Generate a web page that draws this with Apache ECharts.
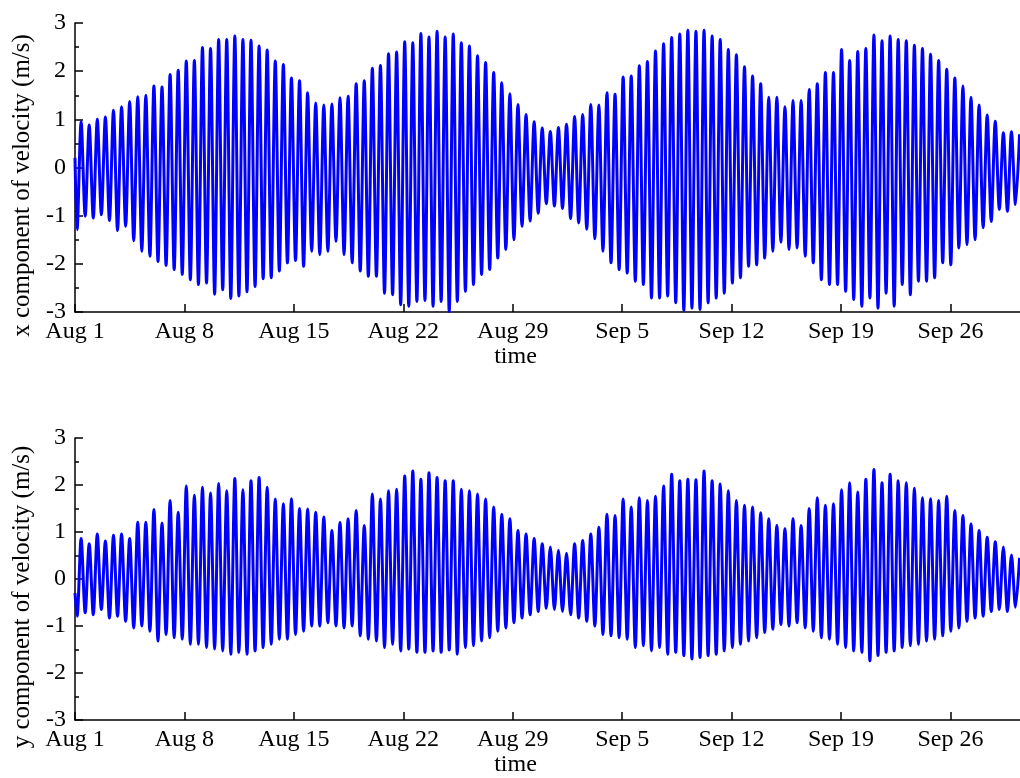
<!DOCTYPE html>
<html>
<head>
<meta charset="utf-8">
<script src="https://cdn.jsdelivr.net/npm/echarts@6/dist/echarts.min.js"></script>
<style>
  html, body { margin: 0; padding: 0; background: #ffffff; }
  #chart { width: 1020px; height: 778px; }
</style>
</head>
<body>
<div id="chart"></div>
<script>
// Tidal current record, 1 Aug - 30 Sep, days counted from Aug 1 00:00.
// Each flood maximum / ebb minimum is one sample; extremes follow the
// semidiurnal M2 period (12.42 h).
const tidalPeriodDays = 0.5175;
const firstTroughDay = 0.134;
const firstPeakDay = 0.391;
const xMaxDay = 60.45;

// x component of velocity (m/s)
const uStart = 0.2;
const uMax = [
  0.95, 0.88, 1.00, 1.05, 1.19, 1.26, 1.37, 1.47, 1.50, 1.69,
  1.67, 1.93, 2.02, 2.21, 2.22, 2.49, 2.47, 2.66, 2.66, 2.73,
  2.66, 2.64, 2.52, 2.44, 2.21, 2.14, 1.86, 1.80, 1.55,
  1.34, 1.30, 1.32, 1.45, 1.48, 1.74, 1.80, 2.06, 2.12, 2.36,
  2.40, 2.61, 2.59, 2.78, 2.71, 2.83, 2.71, 2.77, 2.59, 2.52,
  2.32, 2.18, 1.97, 1.76, 1.53, 1.31, 1.10, 0.95, 0.82,
  0.75, 0.83, 0.90, 1.06, 1.10, 1.31, 1.30, 1.55, 1.52, 1.88,
  1.90, 2.11, 2.20, 2.42, 2.57, 2.70, 2.77, 2.85, 2.83, 2.85,
  2.73, 2.66, 2.45, 2.34, 2.09, 1.90, 1.74, 1.46, 1.46, 1.26,
  1.39, 1.39, 1.62, 1.74, 1.97, 1.97, 2.45, 2.22, 2.41, 2.47,
  2.75, 2.63, 2.73, 2.66, 2.63, 2.54, 2.47, 2.35, 2.22, 2.04,
  1.86, 1.69, 1.46, 1.30, 1.09, 0.96, 0.72, 0.74, 0.69
];
const uMin = [
  -1.29, -1.01, -1.05, -0.98, -1.10, -1.31, -1.22, -1.52, -1.74, -1.84,
  -1.95, -2.03, -2.12, -2.22, -2.33, -2.43, -2.40, -2.63, -2.54, -2.72,
  -2.67, -2.58, -2.47, -2.31, -2.29, -2.15, -1.98, -1.93, -2.05,
  -1.74, -1.81, -1.74, -1.53, -1.81, -1.98, -2.15, -2.26, -2.26, -2.61,
  -2.64, -2.85, -2.88, -2.78, -2.76, -2.88, -2.78, -2.99, -2.78, -2.57,
  -2.43, -2.22, -2.12, -1.88, -1.70, -1.50, -1.22, -1.11, -0.95,
  -0.75, -0.80, -0.85, -1.06, -1.15, -1.28, -1.48, -1.74, -1.98, -2.12,
  -2.19, -2.36, -2.43, -2.71, -2.71, -2.67, -2.81, -2.97, -2.92, -2.95,
  -2.81, -2.71, -2.61, -2.40, -2.29, -2.05, -2.02, -1.88, -1.74, -1.55,
  -1.70, -1.67, -1.84, -1.98, -2.33, -2.43, -2.43, -2.57, -2.74, -2.88,
  -2.71, -2.92, -2.61, -2.88, -2.43, -2.64, -2.36, -2.36, -2.29, -1.98,
  -2.02, -1.67, -1.60, -1.50, -1.25, -1.12, -0.87, -0.91, -0.77
];

// y component of velocity (m/s)
const vStart = -0.3;
const vMax = [
  0.86, 0.75, 0.96, 0.81, 0.93, 0.96, 0.86, 1.21, 1.21, 1.48,
  1.19, 1.67, 1.42, 1.98, 1.78, 1.95, 1.83, 2.03, 1.88, 2.14,
  1.90, 2.09, 2.16, 1.95, 1.70, 1.60, 1.71, 1.50, 1.49, 1.42,
  1.32, 1.03, 1.20,
  1.28, 1.46, 1.14, 1.81, 1.70, 1.88, 1.91, 2.19, 2.30, 2.12,
  2.26, 2.16, 2.09, 2.09, 1.91, 1.88, 1.81, 1.70, 1.53, 1.38,
  1.28, 1.03, 0.96, 0.86, 0.75, 0.68, 0.61, 0.55, 0.75, 0.82,
  0.96, 1.10, 1.38, 1.35, 1.70, 1.53, 1.73, 1.67, 1.76, 1.98,
  2.23,
  2.09, 2.12, 2.11, 2.30, 2.09, 2.02, 1.88, 1.67, 1.57, 1.53,
  1.41, 1.28, 1.14, 1.07, 1.28, 1.14, 1.50, 1.73, 1.57, 1.60,
  1.90, 2.05, 1.85, 2.12, 2.33, 2.05, 2.23, 2.09, 2.05, 1.93,
  1.73, 1.71, 1.67, 1.76, 1.46, 1.35, 1.17, 1.03, 0.89, 0.79,
  0.68, 0.51, 0.45
];
const vMin = [
  -0.79, -0.72, -0.76, -0.65, -0.83, -0.79, -0.90, -1.04, -1.00, -1.11,
  -1.32, -1.18, -1.25, -1.28, -1.39, -1.39, -1.46, -1.49, -1.53, -1.60,
  -1.56, -1.60, -1.53, -1.46, -1.39, -1.28, -1.28, -1.18, -1.11, -1.00,
  -1.00, -0.93, -1.00,
  -1.04, -1.00, -1.21, -1.28, -1.32, -1.46, -1.39, -1.53, -1.49, -1.56,
  -1.56, -1.53, -1.56, -1.51, -1.60, -1.46, -1.42, -1.32, -1.25, -1.11,
  -1.04, -0.93, -0.83, -0.76, -0.69, -0.62, -0.65, -0.69, -0.76, -0.83,
  -0.90, -1.00, -1.18, -1.21, -1.25, -1.28, -1.46, -1.42, -1.53, -1.46,
  -1.60,
  -1.56, -1.63, -1.70, -1.67, -1.63, -1.60, -1.53, -1.46, -1.39, -1.32,
  -1.25, -1.14, -1.07, -0.97, -1.00, -0.93, -1.04, -1.11, -1.25, -1.28,
  -1.39, -1.46, -1.53, -1.56, -1.74, -1.63, -1.56, -1.53, -1.46, -1.42,
  -1.39, -1.32, -1.28, -1.21, -1.11, -1.04, -0.90, -0.83, -0.79, -0.69,
  -0.65, -0.69, -0.60
];

const yTitles = ['x component of velocity (m/s)', 'y component of velocity (m/s)'];
const xTitle = 'time';

const FONT = '"Times New Roman", "Liberation Serif", serif';
const INK = '#000000';
const BLUE = '#0000ff';

// Alternate ebb minima and flood maxima along the time axis.
function buildTrace(start, mins, maxs) {
  const pts = [[0, start]];
  for (let k = 0; k < mins.length; k++) {
    pts.push([firstTroughDay + k * tidalPeriodDays, mins[k]]);
    if (k < maxs.length) pts.push([firstPeakDay + k * tidalPeriodDays, maxs[k]]);
  }
  return pts;
}

function dayLabel(d) {
  const n = Math.round(d);
  return n < 31 ? 'Aug ' + (n + 1) : 'Sep ' + (n - 30);
}

const axisLineStyle = { color: INK, width: 1.5 };

function xAxisFor(i) {
  return {
    type: 'value', gridIndex: i, min: 0, max: xMaxDay, interval: 7,
    axisLine: { show: true, onZero: false, lineStyle: axisLineStyle },
    axisTick: { show: true, inside: true, length: 8, lineStyle: axisLineStyle },
    axisLabel: {
      formatter: dayLabel, fontFamily: FONT, fontSize: 24, color: INK,
      margin: 8, showMaxLabel: false
    },
    splitLine: { show: false },
    name: xTitle, nameLocation: 'middle', nameGap: 33,
    nameTextStyle: { fontFamily: FONT, fontSize: 24, color: INK, padding: [0, 64, 0, 0] }
  };
}

function yAxisFor(i) {
  return {
    type: 'value', gridIndex: i, min: -3, max: 3, interval: 1,
    axisLine: { show: true, onZero: false, lineStyle: axisLineStyle },
    axisTick: { show: true, inside: true, length: 8, lineStyle: axisLineStyle },
    minorTick: { show: true, splitNumber: 2, length: 4, lineStyle: axisLineStyle },
    axisLabel: { fontFamily: FONT, fontSize: 24, color: INK, margin: 9 },
    splitLine: { show: false },
    name: yTitles[i], nameLocation: 'middle', nameGap: 39,
    nameTextStyle: { fontFamily: FONT, fontSize: 25, color: INK, padding: [0, 36, 0, 0] }
  };
}

function traceSeries(i, data) {
  return {
    type: 'line', xAxisIndex: i, yAxisIndex: i, data: data,
    showSymbol: false, symbol: 'none', smooth: 0.3,
    lineStyle: { color: BLUE, width: 3 },
    clip: true
  };
}

const chart = echarts.init(document.getElementById('chart'), null, { renderer: 'canvas' });
chart.setOption({
  animation: false,
  backgroundColor: '#ffffff',
  grid: [
    { left: 75, top: 23, width: 945, height: 289 },
    { left: 75, top: 438, width: 945, height: 285 }
  ],
  xAxis: [xAxisFor(0), xAxisFor(1)],
  yAxis: [yAxisFor(0), yAxisFor(1)],
  series: [
    traceSeries(0, buildTrace(uStart, uMin, uMax)),
    traceSeries(1, buildTrace(vStart, vMin, vMax))
  ]
});
</script>
</body>
</html>
